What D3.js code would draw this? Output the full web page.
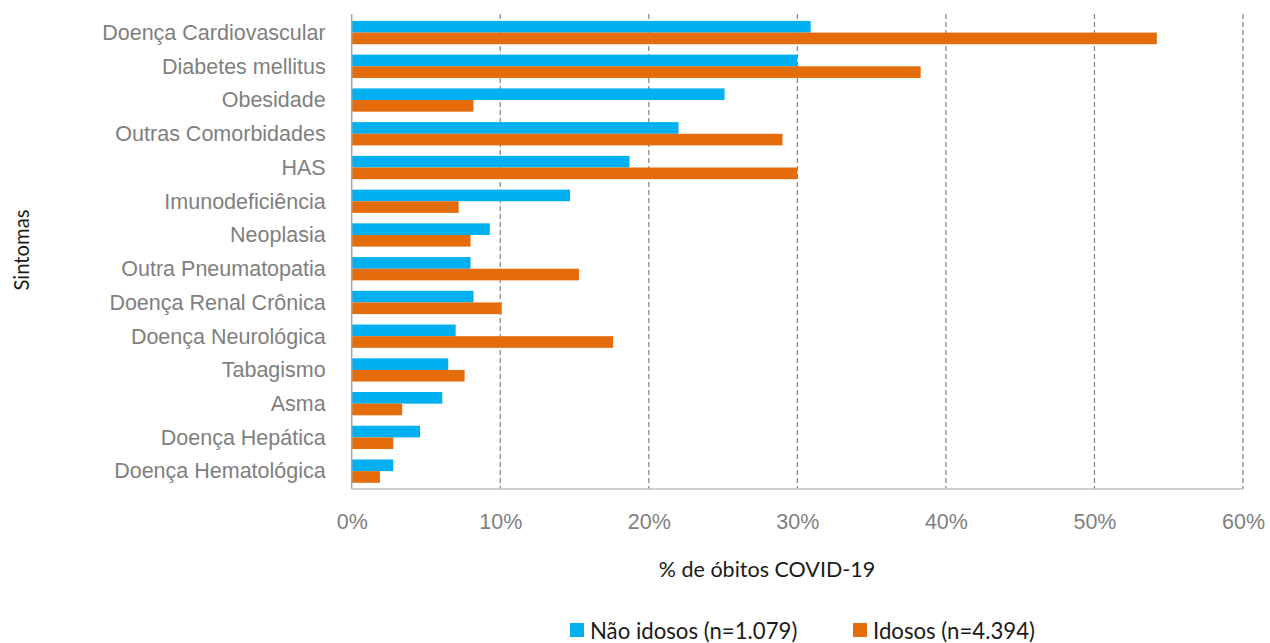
<!DOCTYPE html>
<html>
<head>
<meta charset="utf-8">
<script src="https://cdn.jsdelivr.net/npm/d3@7"></script>
<style>
  body { margin: 0; background: #fff; }
  svg { display: block; font-family: Lato, "Open Sans", sans-serif; }
</style>
</head>
<body>
<svg id="chart" width="1270" height="643"></svg>
<script>
// Comorbidades entre óbitos por COVID-19, por faixa etária (%)
const categories = [
  "Doença Cardiovascular", "Diabetes mellitus", "Obesidade", "Outras Comorbidades",
  "HAS", "Imunodeficiência", "Neoplasia", "Outra Pneumatopatia",
  "Doença Renal Crônica", "Doença Neurológica", "Tabagismo", "Asma",
  "Doença Hepática", "Doença Hematológica"
];
const naoIdosos = [30.9, 30.0, 25.1, 22.0, 18.7, 14.7, 9.3, 8.0, 8.2, 7.0, 6.5, 6.1, 4.6, 2.8];
const idosos    = [54.2, 38.3, 8.2, 29.0, 30.0, 7.2, 8.0, 15.3, 10.1, 17.6, 7.6, 3.4, 2.8, 1.9];
const seriesNames = ["Não idosos (n=1.079)", "Idosos (n=4.394)"];
const seriesColors = ["#00B0F0", "#E46C0A"];
const xTicks = [0, 10, 20, 30, 40, 50, 60];

const svg = d3.select("#chart");
const plot = { left: 351.7, right: 1243, top: 14, bottom: 489 };

const x = d3.scaleLinear().domain([0, 60]).range([plot.left, plot.right]);
const y = d3.scaleBand().domain(categories).range([15.7, 488]).paddingInner(0.31).paddingOuter(0.155);
const ySub = d3.scaleBand().domain([0, 1]).range([0, y.bandwidth()]);

// dashed vertical gridlines
svg.append("g").selectAll("line").data(xTicks.slice(1)).join("line")
  .attr("x1", d => x(d)).attr("x2", d => x(d))
  .attr("y1", plot.top).attr("y2", plot.bottom)
  .attr("stroke", "#8c8c8c").attr("stroke-width", 1.3)
  .attr("stroke-dasharray", "5,3");

// bars
const rows = categories.map((c, i) => ({ c, v: [naoIdosos[i], idosos[i]] }));
const groups = svg.append("g").selectAll("g").data(rows).join("g")
  .attr("transform", d => `translate(0,${y(d.c)})`);
groups.selectAll("rect").data(d => d.v.map((v, s) => ({ v, s }))).join("rect")
  .attr("x", x(0))
  .attr("y", d => ySub(d.s))
  .attr("width", d => x(d.v) - x(0))
  .attr("height", ySub.bandwidth())
  .attr("fill", d => seriesColors[d.s]);

// axis lines
svg.append("line").attr("x1", plot.left).attr("x2", plot.left)
  .attr("y1", plot.top).attr("y2", plot.bottom)
  .attr("stroke", "#a6a6a6").attr("stroke-width", 1.5);
svg.append("line").attr("x1", plot.left).attr("x2", plot.right)
  .attr("y1", plot.bottom).attr("y2", plot.bottom)
  .attr("stroke", "#bfbfbf").attr("stroke-width", 1.5);

// category labels
const yAxis = d3.axisLeft(y).tickSize(0).tickPadding(26);
const gy = svg.append("g").attr("transform", `translate(${plot.left},0)`).call(yAxis);
gy.select(".domain").remove();
gy.selectAll("text").attr("fill", "#7f7f7f").style("font-size", "21.5px")
  .attr("dy", "0.34em");

// percent ticks
const xAxis = d3.axisBottom(x).tickValues(xTicks).tickFormat(d => d + "%").tickSize(0).tickPadding(25);
const gx = svg.append("g").attr("transform", `translate(0,${plot.bottom})`).call(xAxis);
gx.select(".domain").remove();
gx.selectAll("text").attr("fill", "#7f7f7f").style("font-size", "21.5px");

// axis titles
svg.append("text").attr("x", 767).attr("y", 577).attr("text-anchor", "middle")
  .attr("fill", "#1a1a1a").style("font-size", "21.5px").text("% de óbitos COVID-19");
svg.append("text").attr("transform", "translate(29,250) rotate(-90)")
  .attr("text-anchor", "middle").attr("fill", "#1a1a1a").style("font-size", "20.3px")
  .text("Sintomas");

// legend
const legendX = [570, 853];
const lg = svg.append("g").selectAll("g").data(seriesNames).join("g")
  .attr("transform", (d, i) => `translate(${legendX[i]},623)`);
lg.append("rect").attr("width", 14).attr("height", 14).attr("y", 0)
  .attr("fill", (d, i) => seriesColors[i]);
lg.append("text").attr("x", 20).attr("y", 16).attr("fill", "#1a1a1a")
  .style("font-size", "22.2px").text(d => d);
</script>
</body>
</html>
